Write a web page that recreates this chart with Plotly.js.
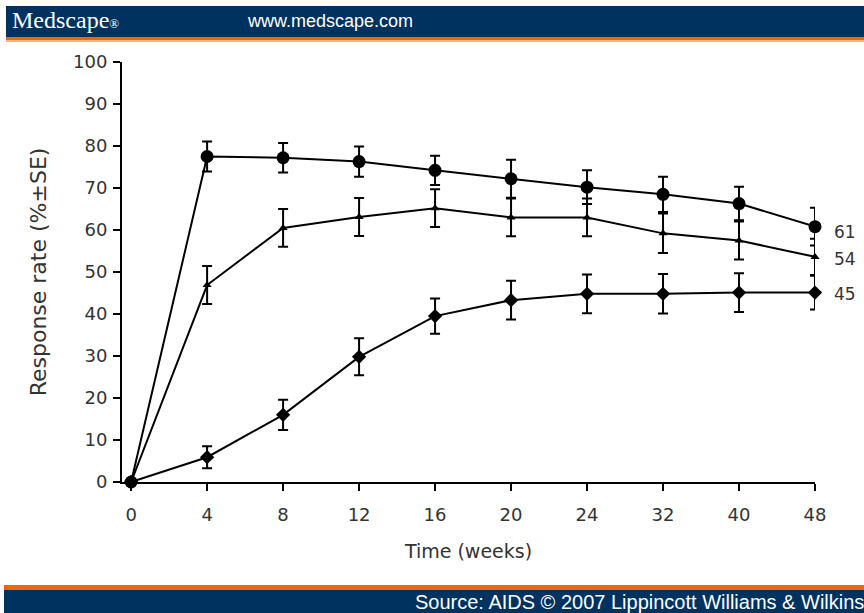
<!DOCTYPE html>
<html>
<head>
<meta charset="utf-8">
<script src="https://cdn.plot.ly/plotly-3.0.1.min.js"></script>
<style>
html,body{margin:0;padding:0;background:#fff;}
#chart{width:864px;height:613px;}
</style>
</head>
<body>
<div id="chart"></div>
<script>
const weeks = ['0','4','8','12','16','20','24','32','40','48'];
const circleRate = [0, 77.5, 77.2, 76.3, 74.2, 72.2, 70.2, 68.5, 66.3, 60.8];
const circleErr  = [0, 3.6, 3.5, 3.6, 3.5, 4.5, 4.0, 4.2, 4.0, 4.5];
const triRate    = [0, 46.9, 60.5, 63.1, 65.2, 63.0, 63.0, 59.2, 57.5, 53.6];
const triErr     = [0, 4.5, 4.5, 4.5, 4.5, 4.5, 4.5, 4.7, 4.5, 4.3];
const diaRate    = [0, 5.9, 16.0, 29.8, 39.5, 43.3, 44.8, 44.8, 45.1, 45.1];
const diaErr     = [0, 2.6, 3.6, 4.4, 4.2, 4.6, 4.6, 4.7, 4.6, 4.0];
const endLabels  = ['61', '54', '45'];
const yTicks = [0,10,20,30,40,50,60,70,80,90,100];

function series(y, err, symbol, size) {
  return {
    x: weeks, y: y, type: 'scatter', mode: 'lines+markers',
    line: {color: '#000', width: 2},
    marker: {symbol: symbol, size: size, color: '#000'},
    error_y: {type: 'data', array: err, visible: true, color: '#000', thickness: 2, width: 5},
    cliponaxis: false, showlegend: false, hoverinfo: 'skip'
  };
}
const data = [
  series(diaRate, diaErr, 'diamond', 11),
  series(triRate, triErr, 'triangle-up', 8),
  series(circleRate, circleErr, 'circle', 13)
];

// pixel -> paper helpers (plot area 122..815 x 62..482)
const L = 122, R = 815, T = 62, B = 482;
const px = v => (v - L) / (R - L);
const py = v => (B - v) / (B - T);
const navy = '#00325f', orange = '#f0640a';
const sans = 'DejaVu Sans, Liberation Sans, Arial, sans-serif';

const shapes = [
  {type:'rect', xref:'paper', yref:'paper', x0:px(6), x1:px(864), y0:py(37), y1:py(6), fillcolor:navy, line:{width:0}, layer:'below'},
  {type:'rect', xref:'paper', yref:'paper', x0:px(6), x1:px(864), y0:py(40), y1:py(37), fillcolor:orange, line:{width:0}, layer:'below'},
  {type:'rect', xref:'paper', yref:'paper', x0:px(6), x1:px(864), y0:py(42), y1:py(40), fillcolor:'#f9b47c', line:{width:0}, layer:'below'},
  {type:'rect', xref:'paper', yref:'paper', x0:px(4), x1:px(864), y0:py(590), y1:py(585), fillcolor:orange, line:{width:0}, layer:'below'},
  {type:'rect', xref:'paper', yref:'paper', x0:px(4), x1:px(864), y0:py(613), y1:py(590), fillcolor:navy, line:{width:0}, layer:'below'}
];

const annotations = [
  {xref:'paper', yref:'paper', x:px(10), y:py(20), xanchor:'left', yanchor:'middle', showarrow:false,
   text:'Medscape<span style="font-size:13px">®</span>', font:{family:'Liberation Serif, DejaVu Serif, serif', size:24, color:'#fff'}},
  {xref:'paper', yref:'paper', x:px(245), y:py(21), xanchor:'left', yanchor:'middle', showarrow:false,
   text:'www.medscape.com', font:{family:'Liberation Sans, Arial, sans-serif', size:18, color:'#fff'}},
  {xref:'paper', yref:'paper', x:px(866), y:py(602), xanchor:'right', yanchor:'middle', showarrow:false,
   text:'Source: AIDS © 2007 Lippincott Williams &amp; Wilkins', font:{family:'Liberation Sans, Arial, sans-serif', size:20, color:'#fff'}}
];
const lastIdx = weeks.length - 1;
const labelShift = [-5, -2, -1];
[circleRate, triRate, diaRate].forEach((s, i) => {
  annotations.push({x: 1, y: s[lastIdx], xref:'paper', yref:'y', xanchor:'left', yanchor:'middle',
    xshift: 17, yshift: labelShift[i], showarrow:false, text: endLabels[i],
    font:{family: sans, size:17, color:'#333'}});
});

const layout = {
  width: 864, height: 613,
  margin: {l: L, r: 864 - R, t: T, b: 613 - B, pad: 0},
  paper_bgcolor: '#fff', plot_bgcolor: '#fff',
  font: {family: sans, color: '#333'},
  xaxis: {
    type: 'category', range: [-0.12, lastIdx], showgrid: false, zeroline: false,
    showline: true, linecolor: '#000', linewidth: 2,
    ticks: 'outside', ticklen: 7, tickwidth: 2, tickcolor: '#000',
    ticklabelstandoff: 8,
    tickfont: {family: sans, size: 18, color: '#333'},
    title: {text: 'Time (weeks)', font: {family: sans, size: 19, color: '#333'}, standoff: 21}
  },
  yaxis: {
    range: [0, 100], tickvals: yTicks, showgrid: false, zeroline: false,
    showline: true, linecolor: '#000', linewidth: 2,
    ticks: 'outside', ticklen: 7, tickwidth: 2, tickcolor: '#000',
    ticklabelstandoff: 2,
    tickfont: {family: sans, size: 18, color: '#333'},
    title: {text: 'Response rate (%±SE)', font: {family: sans, size: 22, color: '#333'}, standoff: 20}
  },
  shapes: shapes,
  annotations: annotations,
  showlegend: false
};

Plotly.newPlot('chart', data, layout, {staticPlot: true, displayModeBar: false});
</script>
</body>
</html>
